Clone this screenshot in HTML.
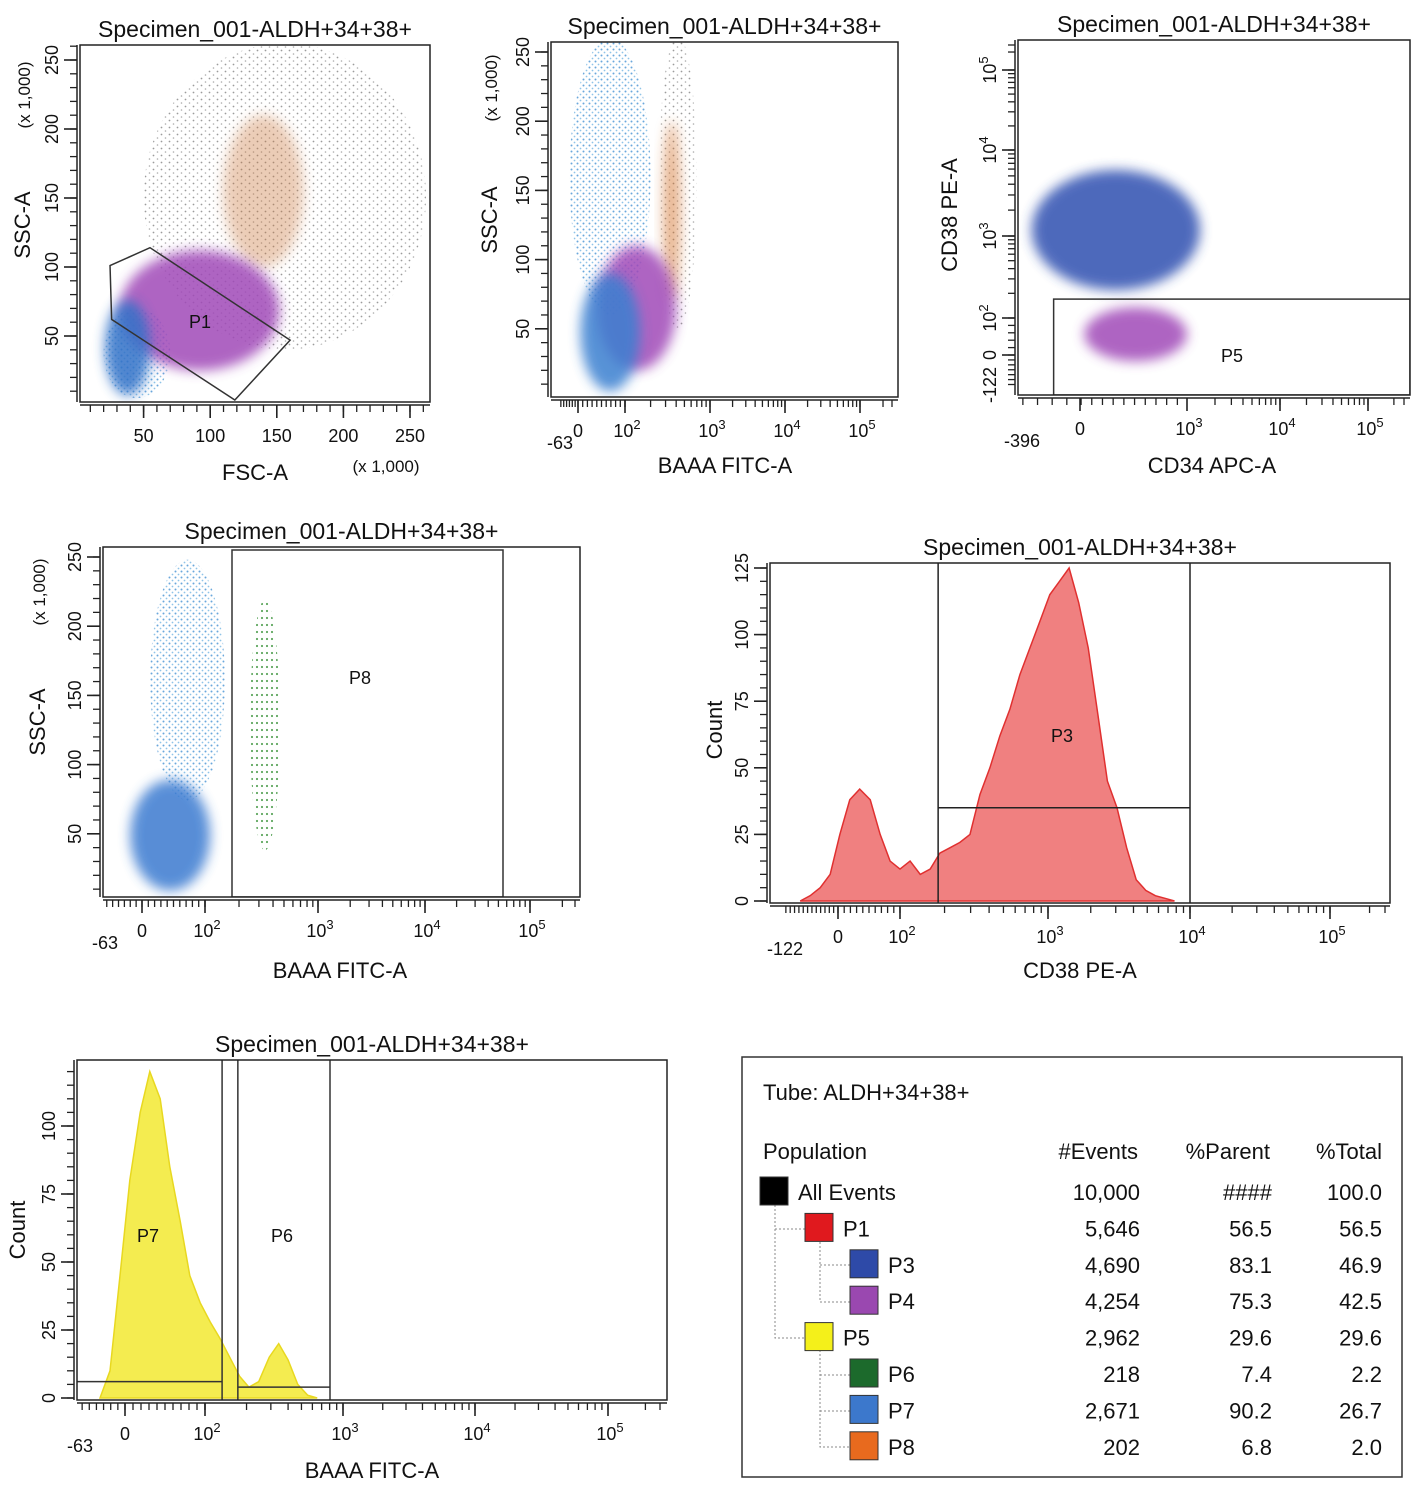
<!DOCTYPE html>
<html><head><meta charset="utf-8">
<style>
html,body{margin:0;padding:0;background:#fff;}
svg{display:block;font-family:"Liberation Sans",Arial,sans-serif;}
</style></head>
<body>
<svg id="root" width="1415" height="1490" viewBox="0 0 1415 1490">
<defs>
<filter id="blur6" x="-50%" y="-50%" width="200%" height="200%"><feGaussianBlur stdDeviation="6"/></filter>
<filter id="blur3" x="-50%" y="-50%" width="200%" height="200%"><feGaussianBlur stdDeviation="3"/></filter>
<pattern id="dotsBlack" width="8" height="7" patternUnits="userSpaceOnUse"><circle cx="1.5" cy="1.5" r="0.9" fill="#222"/><circle cx="5.5" cy="5" r="0.8" fill="#444"/></pattern>
<pattern id="dotsBlue" width="6" height="6" patternUnits="userSpaceOnUse"><circle cx="1.5" cy="1.5" r="1" fill="#3a8ad0"/><circle cx="4.5" cy="4.5" r="0.9" fill="#6ab0e0"/></pattern>
<pattern id="dotsGreen" width="5" height="7" patternUnits="userSpaceOnUse"><circle cx="2" cy="2" r="1.1" fill="#2a8a2a"/></pattern>
<pattern id="dotsOrange" width="5" height="5" patternUnits="userSpaceOnUse"><circle cx="2" cy="2" r="1.2" fill="#d07020"/></pattern>
</defs>
<g id="panels"></g>
</svg>
<script>
// ---------- Data ----------
const p5BinX = [-87,-64,-41,-18,3,19,35,52,68,84,100,117,137,160,186,218,254,297,347,405,473,553,646,755,882,1030,1205,1408,1645,1920,2245,2620,3060,3580,4180,4880,5700,6660,7780];
const p5Counts = [0,2,5,10,25,38,42,38,25,15,12,15,10,12,18,20,22,25,40,50,62,72,85,95,105,115,120,125,112,95,70,45,35,20,8,4,2,1,0];
const p6BinX = [-35,-21,-7,6,19,31,44,56,69,81,94,109,128,151,178,208,245,292,342,400,470,555,650];
const p6Counts = [0,10,45,80,105,120,110,85,65,45,35,28,22,15,8,4,6,15,20,14,5,1,0];
// Scatter density clusters [xLo,xHi,yLo,yHi]
const p1Clusters = [[50,262,40,262],[110,170,100,210],[20,70,5,70],[32,152,25,112],[21,55,7,76]];
const p1Fills = ["dotsBlack","#c87030","dotsBlue","#a048b8","#3272c8"];
const p2Clusters = [[-30,200,60,260],[250,700,50,262],[280,450,70,200],[40,400,20,110],[5,150,5,90]];
const p2Fills = ["dotsBlue","dotsBlack","#d06a20","#a048b8","#3a80d0"];
const p3Clusters = [[-330,1380,219,5860],[40,1000,-25,135]];
const p3Fills = ["#2f4fb0","#a048b8"];
const p4Clusters = [[13,150,74,248],[-20,111,9,89],[250,460,38,219]];
const p4Fills = ["dotsBlue","#3a7ad0","dotsGreen"];
const clusterOpacity = {"dotsBlack":0.45,"#c87030":0.35,"#d06a20":0.5};
// Table
const popNames = ["All Events","P1","P3","P4","P5","P6","P7","P8"];
const popEvents = ["10,000","5,646","4,690","4,254","2,962","218","2,671","202"];
const popParent = ["####","56.5","83.1","75.3","29.6","7.4","90.2","6.8"];
const popTotal = ["100.0","56.5","46.9","42.5","29.6","2.2","26.7","2.0"];
const popColors = ["#000000","#e0191e","#2e4aa8","#9a48b0","#f4f01a","#1c6a2c","#3c78cc","#e86a1e"];
const popLevel = [0,1,2,2,1,2,2,2];

const NS="http://www.w3.org/2000/svg";
const root=document.getElementById('panels');
function mk(tag,attrs,parent){const n=document.createElementNS(NS,tag);for(const k in attrs)n.setAttribute(k,attrs[k]);(parent||root).appendChild(n);return n;}
function scale(vals,px){return function(v){
  for(let i=0;i<vals.length-1;i++){const a=vals[i],b=vals[i+1];
    if(v<=b||i===vals.length-2){let t;
      if(a>0&&b>0)t=(Math.log10(Math.max(v,1e-9))-Math.log10(a))/(Math.log10(b)-Math.log10(a));
      else t=(v-a)/(b-a);
      if(i===0&&v<a)t=(v-a)/(b-a);
      return px[i]+t*(px[i+1]-px[i]);}}
};}
function txt(x,y,s,size,anchor,parent,rot){const t=mk('text',{x:x,y:y,'font-size':size,'text-anchor':anchor||'middle',fill:'#111'},parent);if(rot)t.setAttribute('transform','rotate(-90 '+x+' '+y+')');t.textContent=s;return t;}
function logLabel(x,y,e,parent,rot){const t=mk('text',{x:x,y:y,'font-size':18,'text-anchor':'middle',fill:'#111'},parent);if(rot)t.setAttribute('transform','rotate(-90 '+x+' '+y+')');const a=mk('tspan',{},t);a.textContent='10';const b=mk('tspan',{dy:-8,'font-size':13},t);b.textContent=e;return t;}

function panel(cfg){
  const g=mk('g',{});
  
  
  const [x0,y0,x1,y1]=cfg.box;
  const title=txt((x0+x1)/2,y0-8,'Specimen_001-ALDH+34+38+',23,'middle',g);
  
  
  const sx=scale(cfg.xv,cfg.xp), sy=scale(cfg.yv,cfg.yp);
  const clip=mk('clipPath',{id:'clip-'+cfg.name},g);
  mk('rect',{x:x0,y:y0,width:x1-x0,height:y1-y0},clip);
  const plot=mk('g',{'clip-path':'url(#clip-'+cfg.name+')'},g);
  if(cfg.draw)cfg.draw(plot,sx,sy);
  const frame=mk('rect',{x:x0,y:y0,width:x1-x0,height:y1-y0,fill:'none',stroke:'#222','stroke-width':1.5},g);
  
  
  const xa=mk('g',{},g);
  
  
  mk('line',{x1:x0,x2:x1,y1:y1+3,y2:y1+3,stroke:'#222','stroke-width':1.5},xa);
  cfg.xMinor.forEach(v=>{const p=sx(v);if(p>=x0&&p<=x1)mk('line',{x1:p,x2:p,y1:y1+3,y2:y1+10,stroke:'#222','stroke-width':1.3},xa);});
  cfg.xMajor.forEach(v=>{const p=sx(v);mk('line',{x1:p,x2:p,y1:y1+3,y2:y1+16,stroke:'#222','stroke-width':1.6},xa);});
  cfg.xLabels.forEach(l=>{const p=sx(l[0]);if(l[2])logLabel(p+2,y1+40,l[2],xa);else txt(p,y1+(l[3]||40),l[1],18,'middle',xa);});
  const ya=mk('g',{},g);
  
  
  mk('line',{x1:x0-3,x2:x0-3,y1:y0,y2:y1,stroke:'#222','stroke-width':1.5},ya);
  cfg.yMinor.forEach(v=>{const p=sy(v);if(p>=y0&&p<=y1)mk('line',{x1:x0-3,x2:x0-10,y1:p,y2:p,stroke:'#222','stroke-width':1.3},ya);});
  cfg.yMajor.forEach(v=>{const p=sy(v);mk('line',{x1:x0-3,x2:x0-16,y1:p,y2:p,stroke:'#222','stroke-width':1.6},ya);});
  cfg.yLabels.forEach(l=>{const p=sy(l[0]);if(l[2])logLabel(x0-22,p,l[2],ya,true);else txt(x0-22,p,l[1],18,'middle',ya,true);});
  const xt=txt(cfg.xTitle[1],cfg.xTitle[2],cfg.xTitle[0],22,'middle',g);
  
  
  const yt=txt(cfg.yTitle[1],cfg.yTitle[2],cfg.yTitle[0],22,'middle',g,true);
  
  
  if(cfg.extra)cfg.extra(g);
  return g;
}
function range(a,b,s){const r=[];for(let v=a;v<=b+1e-9;v+=s)r.push(v);return r;}
function logMinor(lo,hi){const r=range(lo,100,10);for(let d=2;d<=5;d++)for(let k=1;k<=9;k++){const v=k*Math.pow(10,d);if(v<=262144)r.push(v);}r.push(262144);return r;}
function drawClusters(plot,sx,sy,cl,fills,pname){
  cl.forEach((c,i)=>{
    const xa=sx(c[0]),xb=sx(c[1]),ya=sy(c[2]),yb=sy(c[3]);
    const isPat=fills[i].indexOf('dots')===0;
    const op=clusterOpacity[fills[i]]!==undefined?clusterOpacity[fills[i]]:(isPat?0.75:0.85);
    const e=mk('ellipse',{cx:(xa+xb)/2,cy:(ya+yb)/2,rx:Math.abs(xb-xa)/2,ry:Math.abs(yb-ya)/2,
      fill:isPat?'url(#'+fills[i]+')':fills[i],opacity:op},plot);
    if(!isPat)e.setAttribute('filter','url(#blur6)');
    
    
  });
}
function drawHist(plot,sx,sy,bx,cnt,color,stroke,pname){
  let d='M'+sx(bx[0])+' '+sy(0);
  bx.forEach((v,i)=>{d+=' L'+sx(v)+' '+sy(cnt[i]);});
  d+=' L'+sx(bx[bx.length-1])+' '+sy(0)+' Z';
  const h=mk('path',{d:d,fill:color,stroke:stroke,'stroke-width':1.5},plot);
  
  
}
const linMinor=range(0,260,10), lin250=[50,100,150,200,250];
const linLab=lin250.map(v=>[v,String(v)]);
const logLabs=(neg)=>[[neg,String(neg),null,52],[0,'0'],[100,'',2],[1000,'',3],[10000,'',4],[100000,'',5]];

panel({name:'fsc-ssc-plot',box:[80,45,430,402],xv:[0,250],xp:[77,410],yv:[0,250],yp:[405,60],
 xMinor:linMinor,xMajor:lin250,xLabels:linLab,yMinor:range(0,260,10),yMajor:lin250,yLabels:linLab,
 xTitle:['FSC-A',255,480],yTitle:['SSC-A',30,225],
 draw:(p,sx,sy)=>{drawClusters(p,sx,sy,p1Clusters,p1Fills,'p1');
   const gate=[[24.8,101],[54.8,114],[160,47],[118.5,3.6],[26,62]];
   const g=mk('polygon',{points:gate.map(q=>sx(q[0])+','+sy(q[1])).join(' '),fill:'none',stroke:'#333','stroke-width':1.5},p);
   
   
   txt(200,328,'P1',18,'middle',p);},
 extra:(g)=>{txt(386,472,'(x 1,000)',17,'middle',g);txt(30,95,'(x 1,000)',17,'middle',g,true);}});
panel({name:'baaa-ssc-plot',box:[551,42,898,397],xv:[-63,0,100,1000,10000,100000,262144],xp:[560,578,625,710,785,860,892],yv:[0,250],yp:[398,52],
 xMinor:logMinor(-60),xMajor:[0,100,1000,10000,100000],xLabels:logLabs(-63),yMinor:range(0,260,10),yMajor:lin250,yLabels:linLab,
 xTitle:['BAAA FITC-A',725,473],yTitle:['SSC-A',497,220],
 draw:(p,sx,sy)=>drawClusters(p,sx,sy,p2Clusters,p2Fills,'p2'),
 extra:(g)=>{txt(497,88,'(x 1,000)',17,'middle',g,true);}});
panel({name:'cd34-cd38-plot',box:[1018,40,1410,395],xv:[-396,0,1000,10000,100000,262144],xp:[1022,1080,1187,1280,1368,1404],yv:[-122,0,100,1000,10000,100000,262144],yp:[385,355,318,236,150,70,45],
 xMinor:range(-390,1000,100).concat(logMinor(1000).filter(v=>v>1000)),xMajor:[0,1000,10000,100000],xLabels:[[-396,'-396',null,52],[0,'0'],[1000,'',3],[10000,'',4],[100000,'',5]],
 yMinor:range(-120,100,20).concat(logMinor(100).filter(v=>v>100)),yMajor:[0,100,1000,10000,100000],yLabels:[[-122,'-122'],[0,'0'],[100,'',2],[1000,'',3],[10000,'',4],[100000,'',5]],
 xTitle:['CD34 APC-A',1212,473],yTitle:['CD38 PE-A',957,215],
 draw:(p,sx,sy)=>{drawClusters(p,sx,sy,p3Clusters,p3Fills,'p3');
   const r=mk('rect',{x:sx(-180),y:sy(170),width:1410-sx(-180),height:395-sy(170),fill:'none',stroke:'#333','stroke-width':1.5},p);
   
   
   txt(1232,362,'P5',18,'middle',p);}});
panel({name:'baaa-ssc-p5-plot',box:[103,547,580,897],xv:[-63,0,100,1000,10000,100000,262144],xp:[105,142,205,318,425,530,575],yv:[0,250],yp:[903,557],
 xMinor:logMinor(-60),xMajor:[0,100,1000,10000,100000],xLabels:logLabs(-63),yMinor:range(0,260,10),yMajor:lin250,yLabels:linLab,
 xTitle:['BAAA FITC-A',340,978],yTitle:['SSC-A',45,722],
 draw:(p,sx,sy)=>{drawClusters(p,sx,sy,p4Clusters,p4Fills,'p4');
   const r=mk('rect',{x:232,y:550,width:271,height:347,fill:'none',stroke:'#333','stroke-width':1.5},p);
   
   
   txt(360,684,'P8',18,'middle',p);},
 extra:(g)=>{txt(45,592,'(x 1,000)',17,'middle',g,true);}});
panel({name:'cd38-histogram',box:[770,563,1390,903],xv:[-122,0,100,1000,10000,100000,262144],xp:[785,838,900,1048,1190,1330,1385],yv:[0,125],yp:[901,568],
 xMinor:range(-120,100,10).concat(logMinor(100).filter(v=>v>100)),xMajor:[0,100,1000,10000,100000],xLabels:logLabs(-122),
 yMinor:range(0,125,5),yMajor:[0,25,50,75,100,125],yLabels:[0,25,50,75,100,125].map(v=>[v,String(v)]),
 xTitle:['CD38 PE-A',1080,978],yTitle:['Count',722,730],
 draw:(p,sx,sy)=>{drawHist(p,sx,sy,p5BinX,p5Counts,'#f08080','#e03030','p5');
   const gl=[[sx(181),563,sx(181),903],[sx(10000),563,sx(10000),903],[sx(181),sy(35),sx(10000),sy(35)]];
   gl.forEach(l=>{const ln=mk('line',{x1:l[0],y1:l[1],x2:l[2],y2:l[3],stroke:'#222','stroke-width':1.5},p);
     
     });
   txt(1062,742,'P3',18,'middle',p);}});
panel({name:'baaa-histogram',box:[77,1060,667,1400],xv:[-63,0,100,1000,10000,100000,262144],xp:[80,125,205,343,475,608,660],yv:[0,125],yp:[1398,1058],
 xMinor:logMinor(-60),xMajor:[0,100,1000,10000,100000],xLabels:logLabs(-63),
 yMinor:range(0,125,5),yMajor:[0,25,50,75,100],yLabels:[0,25,50,75,100].map(v=>[v,String(v)]),
 xTitle:['BAAA FITC-A',372,1478],yTitle:['Count',25,1230],
 draw:(p,sx,sy)=>{drawHist(p,sx,sy,p6BinX,p6Counts,'#f4ec50','#e8d820','p6');
   const gl=[[sx(133),1060,sx(133),1400],[sx(173),1060,sx(173),1400],[sx(805),1060,sx(805),1400],[77,sy(6),sx(133),sy(6)],[sx(173),sy(4),sx(805),sy(4)]];
   gl.forEach(l=>{const ln=mk('line',{x1:l[0],y1:l[1],x2:l[2],y2:l[3],stroke:'#333','stroke-width':1.5},p);
     
     });
   txt(148,1242,'P7',18,'middle',p);txt(282,1242,'P6',18,'middle',p);}});

const tb=mk('g',{});


mk('rect',{x:742,y:1057,width:660,height:420,fill:'#fff',stroke:'#333','stroke-width':1.5},tb);
txt(763,1100,'Tube:   ALDH+34+38+',22,'start',tb);
txt(763,1159,'Population',22,'start',tb);
txt(1138,1159,'#Events',22,'end',tb);
txt(1270,1159,'%Parent',22,'end',tb);
txt(1382,1159,'%Total',22,'end',tb);
mk('path',{d:'M775 1205 V1338 H805 M775 1229 H805 M820 1242 V1302 H850 M820 1265 H850 M820 1350 V1447 H850 M820 1375 H850 M820 1411 H850',fill:'none',stroke:'#888','stroke-width':1,'stroke-dasharray':'2 2'},tb);
popNames.forEach((n,i)=>{
  const y=1191+i*36.4;
  const sx=760+popLevel[i]*45;
  const row=mk('g',{},tb);
  
  
  mk('rect',{x:sx,y:y-14,width:28,height:28,fill:popColors[i],stroke:'#333','stroke-width':1},row);
  txt(sx+38,y+9,n,22,'start',row);
  txt(1140,y+9,popEvents[i],22,'end',row);
  txt(1272,y+9,popParent[i],22,'end',row);
  txt(1382,y+9,popTotal[i],22,'end',row);
});
</script>
</body></html>
